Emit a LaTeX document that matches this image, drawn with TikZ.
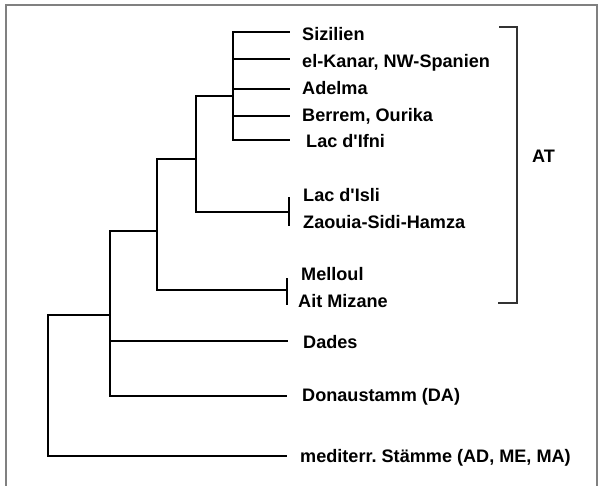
\documentclass[tikz,border=0pt]{standalone}
\usepackage{fontspec}
\setmainfont{Liberation Sans}
\begin{document}
\frenchspacing
\begin{tikzpicture}[x=1pt,y=-1pt,
  branch/.style={line width=2pt, line join=miter, line cap=rect, black},
  bracketline/.style={line width=1.1pt, color=black!80},
  framebox/.style={line width=1.6pt, color=black!50},
  leaf/.style={anchor=base west, inner sep=0pt, font=\fontsize{18.1}{20}\selectfont\bfseries}]
\useasboundingbox (0,0) rectangle (602,485);
\begin{scope}
  \clip (0,0) rectangle (602,485);
  \draw[framebox] (6,5) rectangle (597,500);
\end{scope}

% junctions
\coordinate (n1) at (233,96);
\coordinate (c1) at (196,159);
\coordinate (c2) at (157,231);
\coordinate (d)  at (110,315);
\coordinate (r)  at (48,390);

% leaf line ends
\coordinate (e1) at (289,32);
\coordinate (e2) at (289,59);
\coordinate (e3) at (289,89);
\coordinate (e4) at (289,116);
\coordinate (e5) at (289,140);
\coordinate (e6) at (289,212);
\coordinate (k1a) at (289,198);
\coordinate (k1b) at (289,225);
\coordinate (e7) at (287,290);
\coordinate (k2a) at (287,279);
\coordinate (k2b) at (287,304);
\coordinate (e8) at (287,341);
\coordinate (e9) at (286,396);
\coordinate (e10) at (286,456);

% tree
\draw[branch] (n1) |- (e1);
\draw[branch] (n1) |- (e2);
\draw[branch] (n1) |- (e3);
\draw[branch] (n1) |- (e4);
\draw[branch] (n1) |- (e5);
\draw[branch] (c1) |- (n1);
\draw[branch] (c1) |- (e6);
\draw[branch] (k1a) -- (k1b);
\draw[branch] (c2) |- (c1);
\draw[branch] (c2) |- (e7);
\draw[branch] (k2a) -- (k2b);
\draw[branch] (d) |- (c2);
\draw[branch] (d) |- (e8);
\draw[branch] (d) |- (e9);
\draw[branch] (r) |- (d);
\draw[branch] (r) |- (e10);

% labels
\node[leaf] (t1) at (302,40) {Sizilien};
\node[leaf] (t2) at (302,67) {el-Kanar, NW-Spanien};
\node[leaf] (t3) at (302,94) {Adelma};
\node[leaf] (t4) at (302,121) {Berrem, Ourika};
\node[leaf] (t5) at (306,147) {Lac d\textquotesingle Ifni};
\node[leaf] (t6) at (303,201) {Lac d\textquotesingle Isli};
\node[leaf] (t7) at (303,228) {Zaouia-Sidi-Hamza};
\node[leaf] (t8) at (301,280) {Melloul};
\node[leaf] (t9) at (298,307) {Ait Mizane};
\node[leaf] (t10) at (303,348) {Dades};
\node[leaf] (t11) at (302,401) {Donaustamm (DA)};
\node[leaf] (t12) at (300,462) {mediterr. Stämme (AD, ME, MA)};
\node[leaf] (at) at (532,162) {AT};

% bracket
\coordinate (b1) at (499,27);
\coordinate (b2) at (517,27);
\coordinate (b3) at (517,303);
\coordinate (b4) at (498,303);
\draw[bracketline] (b1) -- (b2) -- (b3) -- (b4);
\end{tikzpicture}
\end{document}
